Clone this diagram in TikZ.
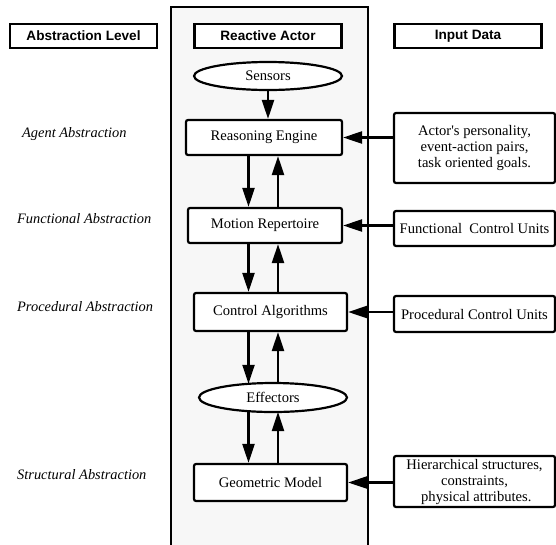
\documentclass[tikz,border=0pt]{standalone}
\usepackage{fontspec}
\setmainfont{Liberation Serif}
\newfontfamily\hdrfont{Liberation Sans}
\usetikzlibrary{arrows.meta,shapes.geometric}
\definecolor{panelgray}{RGB}{247,247,247}
\begin{document}
\begin{tikzpicture}[x=1pt,y=-1pt,
  box/.style={draw, line width=2.2pt, rounded corners=2pt, fill=white, inner sep=0pt,
    align=center, font=\fontsize{14.6}{16}\selectfont},
  oval/.style={ellipse, draw, line width=2.2pt, fill=white, inner sep=0pt,
    minimum width=148pt, font=\fontsize{14.6}{16}\selectfont},
  hdr/.style={draw, line width=2.2pt, fill=white, inner sep=0pt,
    minimum width=147pt, minimum height=24pt,
    font=\hdrfont\bfseries\fontsize{13.6}{15}\selectfont},
  lvl/.style={anchor=west, inner sep=0pt, font=\itshape\fontsize{14.4}{16}\selectfont},
  arr/.style={line width=2.2pt, -{Triangle[length=19pt,width=12pt]}},
]
\useasboundingbox (0,0) rectangle (556,544);
% panel
\fill[panelgray] (171,7) rectangle (368,570);
\draw[line width=2.2pt] (171,570) -- (171,7) -- (368,7) -- (368,570);

% headers
\node[hdr] (hL) at (83.5,36) {Abstraction Level};
\node[hdr] (hR) at (268,36) {Reactive Actor};
\node[hdr] (hI) at (468,36) {Input Data};

% level labels
\node[lvl] (lA) at (22,134) {Agent Abstraction};
\node[lvl] (lF) at (17,219) {Functional Abstraction};
\node[lvl] (lP) at (17,307) {Procedural Abstraction};
\node[lvl] (lS) at (17,475) {Structural Abstraction};

% actor nodes
\node[oval, minimum height=28pt] (sens) at (268,76) {Sensors};
\node[box, minimum width=156pt, minimum height=35pt] (re) at (264,137.5) {Reasoning Engine};
\node[box, minimum width=154pt, minimum height=35pt] (mr) at (265,225.5) {Motion Repertoire};
\node[box, minimum width=153pt, minimum height=38pt] (ca) at (270.5,312) {Control Algorithms};
\node[oval, minimum height=29pt] (eff) at (273,397.5) {Effectors};
\node[box, minimum width=153pt, minimum height=37pt] (gm) at (270.5,482.5) {Geometric Model};

% input nodes
\node[box, minimum width=161pt, minimum height=70pt] (in1) at (474.5,148)
  {Actor\textquotesingle s personality,\\ event-action pairs,\\ task oriented goals.};
\node[box, minimum width=161pt, minimum height=35pt] (in2) at (474.5,228.5)
  {Functional\ \ Control Units};
\node[box, minimum width=161pt, minimum height=36pt] (in3) at (474.5,314)
  {Procedural Control Units};
\node[box, minimum width=161pt, minimum height=51pt] (in4) at (474.5,481.5)
  {Hierarchical structures,\\ constraints,\\ \ physical attributes.};

% helper coordinates
\coordinate (dn) at (248.5,0);
\coordinate (up) at (278,0);
\path (eff.center) ++(-24.5,-13.7) coordinate (effdt);
\path (eff.center) ++(-24.5,13.7) coordinate (effdb);
\path (eff.center) ++(5,-14.5) coordinate (effut);
\path (eff.center) ++(5,14.5) coordinate (effub);

% vertical arrows
\draw[arr] (sens.south) -- (sens.south |- re.north);
\draw[arr] (re.south -| dn) -- (mr.north -| dn);
\draw[arr] (mr.north -| up) -- (re.south -| up);
\draw[arr] (mr.south -| dn) -- (ca.north -| dn);
\draw[arr] (ca.north -| up) -- (mr.south -| up);
\draw[arr] (ca.south -| dn) -- (effdt);
\draw[arr] (effut) -- (ca.south -| up);
\draw[arr] (effdb) -- (gm.north -| dn);
\draw[arr] (gm.north -| up) -- (effub);

% input arrows
\draw[arr] (in1.west |- re.east) -- (re.east);
\draw[arr] (in2.west |- mr.east) -- (mr.east);
\draw[arr] (in3.west |- ca.east) -- (ca.east);
\draw[arr] (in4.west |- gm.east) -- (gm.east);
\end{tikzpicture}
\end{document}
